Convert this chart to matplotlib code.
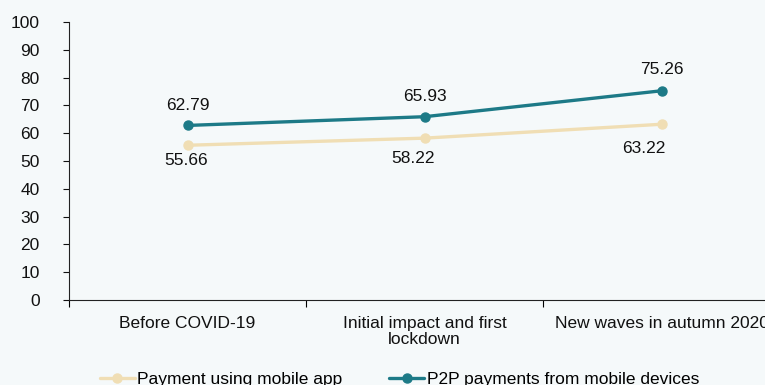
import matplotlib.pyplot as plt

plt.rcParams['font.family'] = ['Liberation Sans', 'DejaVu Sans']

# survey share by period (%)
periods = ["Before COVID-19", "Initial impact and first\nlockdown", "New waves in autumn 2020"]
app_pay = [55.66, 58.22, 63.22]
p2p_pay = [62.79, 65.93, 75.26]
yticks = [0, 10, 20, 30, 40, 50, 60, 70, 80, 90, 100]

# label nudges in points (dx, dy)
app_nudge = [(-0.7, -11), (-8.6, -14.5), (-13, -17.5)]
p2p_nudge = [(0, 14.5), (0, 14.5), (0, 15)]

bg = "#F5F9FA"
teal = "#1D7A87"
tan = "#F0DEB4"
fs = 12.5

fig = plt.figure(figsize=(7.65, 3.85), dpi=100, facecolor=bg)
# axis runs past the right edge of the figure
ax = fig.add_axes([69/765, 85/385, 711/765, 278/385], facecolor=bg)

xs = [0.5, 1.5, 2.5]
ax.plot(xs, app_pay, color=tan, lw=2.4, marker="o", ms=6.5, label="Payment using mobile app", solid_capstyle="round")
ax.plot(xs, p2p_pay, color=teal, lw=2.4, marker="o", ms=6.5, label="P2P payments from mobile devices", solid_capstyle="round")

for x, v, d in zip(xs, p2p_pay, p2p_nudge):
    ax.annotate(f"{v:.2f}", (x, v), xytext=d, textcoords="offset points",
                ha="center", va="center", fontsize=fs, color="#111111")
for x, v, d in zip(xs, app_pay, app_nudge):
    ax.annotate(f"{v:.2f}", (x, v), xytext=d, textcoords="offset points",
                ha="center", va="center", fontsize=fs, color="#111111")

ax.set_xlim(0, 3)
ax.set_ylim(0, 100)
ax.set_yticks(yticks)
ax.tick_params(axis="y", length=4, pad=17, labelsize=fs, colors="#111111")
ax.set_xticks([0, 1, 2, 3])
ax.set_xticklabels([])
ax.set_xticks(xs, minor=True)
ax.set_xticklabels(periods, minor=True, fontsize=fs, color="#111111")
ax.tick_params(axis="x", which="major", length=5, direction="out")
ax.tick_params(axis="x", which="minor", length=0, pad=11.5)
for lbl in ax.get_xticklabels(minor=True):
    lbl.set_verticalalignment("top")
    lbl.set_linespacing(1.05)

for s in ["top", "right"]:
    ax.spines[s].set_visible(False)
ax.spines["left"].set_color("#222222")
ax.spines["bottom"].set_color("#222222")

fig.legend(loc="center left", bbox_to_anchor=(100/765, 1 - 379/385), ncol=2,
           frameon=False, fontsize=fs, handlelength=2.0, handletextpad=0.15,
           columnspacing=2.7, borderaxespad=0, borderpad=0)

fig.savefig("out.png", dpi=100, facecolor=bg)
